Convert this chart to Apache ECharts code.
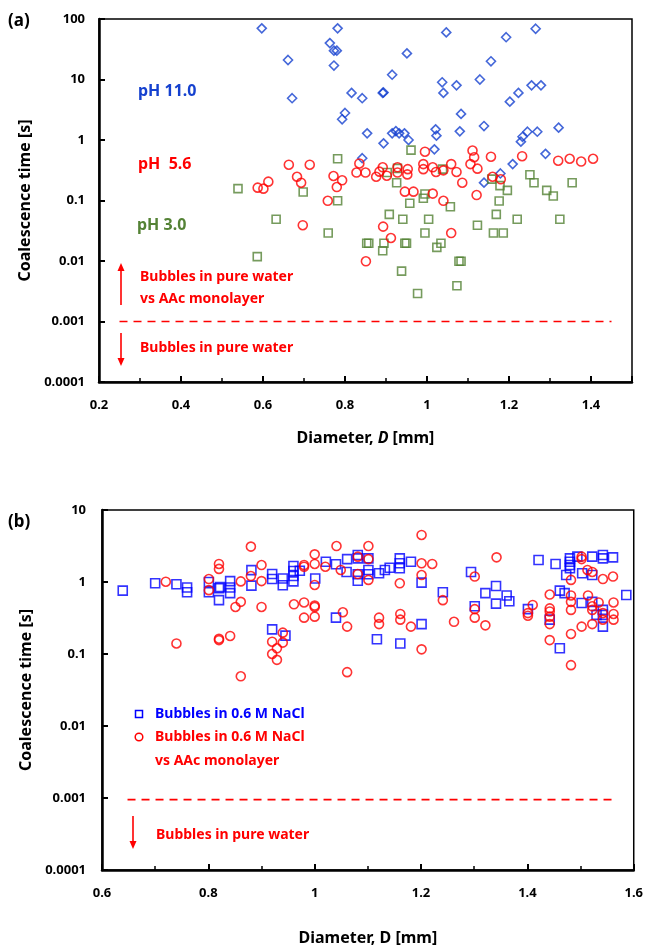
<!DOCTYPE html>
<html><head><meta charset="utf-8">
<script src="https://cdn.jsdelivr.net/npm/echarts@6/dist/echarts.min.js"></script>
<style>html,body{margin:0;padding:0;background:#fff}#c{width:646px;height:948px}</style>
</head><body><div id="c"></div>
<script>
// ---------- Panel (a): diameter [mm] vs coalescence time [s] ----------
const pH11 = [[0.597,70],[0.782,70],[0.763,40],[0.773,30],[0.78,30],[0.661,21],[0.773,17],[0.671,4.9],[0.816,6],[0.842,4.9],[0.8,2.8],[0.793,2.2],[0.854,1.29],[0.842,0.5],[1.047,60],[1.265,69],[1.193,50],[0.951,27],[1.156,20],[0.915,12],[1.037,9],[1.129,10],[1.072,8],[1.255,8],[1.278,8],[0.892,6],[0.894,6.1],[1.04,6],[1.223,6],[1.202,4.3],[1.083,2.7],[1.139,1.7],[1.321,1.6],[0.915,1.29],[0.924,1.4],[0.932,1.29],[0.945,1.29],[0.955,1.0],[0.894,0.88],[1.021,1.5],[1.023,1.18],[1.08,1.39],[1.018,0.7],[1.245,1.37],[1.269,1.37],[1.233,1.13],[1.229,0.94],[1.289,0.59],[1.209,0.4],[1.179,0.28],[1.139,0.197]];
const pH56 = [[0.663,0.39],[0.714,0.39],[0.835,0.41],[0.828,0.29],[0.85,0.29],[0.613,0.205],[0.587,0.163],[0.601,0.157],[0.683,0.247],[0.693,0.197],[0.772,0.254],[0.793,0.216],[0.78,0.167],[0.758,0.099],[0.697,0.039],[0.851,0.0099],[0.995,0.64],[1.111,0.67],[1.115,0.52],[1.156,0.53],[1.232,0.54],[1.32,0.455],[1.348,0.49],[1.376,0.44],[1.405,0.49],[0.876,0.247],[0.884,0.3],[0.892,0.354],[0.902,0.257],[0.928,0.354],[0.928,0.29],[0.953,0.33],[0.952,0.27],[0.991,0.4],[0.991,0.33],[1.014,0.354],[1.022,0.296],[1.04,0.315],[1.059,0.4],[1.072,0.296],[1.106,0.4],[1.123,0.336],[1.086,0.197],[1.16,0.247],[1.18,0.224],[0.946,0.14],[0.967,0.14],[1.014,0.13],[1.04,0.099],[1.121,0.123],[0.893,0.037],[0.912,0.024],[1.059,0.029]];
const pH30 = [[0.782,0.49],[0.539,0.157],[0.698,0.138],[0.782,0.099],[0.632,0.049],[0.759,0.029],[0.586,0.0118],[0.853,0.0196],[0.858,0.0196],[0.961,0.68],[1.038,0.33],[0.928,0.34],[0.903,0.29],[0.926,0.197],[1.158,0.226],[1.178,0.176],[1.196,0.147],[1.251,0.267],[1.261,0.197],[1.292,0.147],[1.308,0.119],[1.354,0.197],[0.995,0.128],[0.991,0.109],[0.958,0.09],[1.057,0.079],[1.176,0.098],[0.908,0.059],[0.941,0.049],[1.004,0.049],[1.169,0.059],[1.22,0.049],[1.324,0.049],[1.123,0.039],[0.995,0.029],[1.162,0.029],[1.186,0.029],[0.895,0.0196],[0.892,0.0148],[0.946,0.0196],[0.95,0.0196],[1.034,0.0196],[1.024,0.0168],[1.078,0.0099],[1.083,0.0099],[0.938,0.0068],[1.073,0.0039],[0.977,0.0029]];
const thresholdA = [[0.25,0.001],[1.45,0.001]];

// ---------- Panel (b) ----------
const naclB = [[0.639,0.76],[0.700,0.96],[0.740,0.93],[0.760,0.84],[0.760,0.72],[0.801,1.0],[0.801,0.72],[0.820,0.82],[0.822,0.85],[0.820,0.56],[0.841,1.03],[0.841,0.84],[0.841,0.70],[0.881,1.46],[0.881,0.89],[0.920,1.29],[0.920,1.1],[0.940,1.12],[0.940,0.9],[0.960,1.67],[0.960,1.42],[0.960,1.21],[0.960,1.02],[0.972,1.43],[1.001,1.12],[1.021,1.91],[1.040,1.76],[1.060,1.38],[1.061,2.08],[1.081,2.37],[1.081,2.13],[1.081,1.28],[1.081,1.04],[1.101,2.13],[1.101,1.47],[1.101,1.28],[1.121,1.32],[1.132,1.47],[1.141,1.58],[1.160,2.13],[1.160,1.82],[1.160,1.55],[1.181,1.91],[1.201,0.98],[1.294,1.38],[1.421,2.02],[1.453,1.78],[1.480,2.13],[1.480,1.91],[1.480,1.72],[1.480,1.55],[1.494,2.25],[1.473,1.25],[1.503,1.32],[1.522,2.25],[1.522,1.25],[1.542,2.37],[1.542,2.13],[1.561,2.2],[0.920,0.22],[0.945,0.18],[1.040,0.32],[1.201,0.26],[1.241,0.72],[1.301,0.46],[1.321,0.7],[1.341,0.88],[1.341,0.5],[1.361,0.65],[1.366,0.54],[1.401,0.42],[1.442,0.3],[1.117,0.16],[1.161,0.14],[1.461,0.76],[1.470,0.7],[1.502,0.51],[1.522,0.53],[1.530,0.35],[1.542,0.41],[1.542,0.35],[1.542,0.24],[1.461,0.12],[1.586,0.66]];
const naclAAcB = [[0.720,1.01],[0.740,0.14],[0.801,1.1],[0.801,0.77],[0.820,1.78],[0.820,1.52],[0.820,0.163],[0.820,0.156],[0.841,0.178],[0.851,0.45],[0.861,0.53],[0.861,1.02],[0.861,0.049],[0.880,1.21],[0.880,3.1],[0.900,1.72],[0.900,1.03],[0.900,0.45],[0.920,0.148],[0.920,0.1],[0.929,0.12],[0.929,0.083],[0.940,0.198],[0.940,0.144],[0.961,0.49],[0.980,0.52],[0.980,0.32],[0.980,1.72],[0.980,1.63],[1.000,0.47],[1.000,0.45],[1.000,0.33],[1.000,0.91],[1.000,1.78],[1.000,2.42],[1.020,1.63],[1.041,3.16],[1.049,1.47],[1.053,0.38],[1.061,0.24],[1.061,0.056],[1.081,1.29],[1.081,2.25],[1.101,1.07],[1.101,3.16],[1.101,2.08],[1.160,0.96],[1.201,4.5],[1.201,1.82],[1.201,1.25],[1.201,0.116],[1.221,1.78],[1.241,0.56],[1.121,0.32],[1.121,0.26],[1.161,0.36],[1.161,0.3],[1.181,0.24],[1.262,0.28],[1.301,1.19],[1.301,0.42],[1.301,0.32],[1.321,0.25],[1.342,2.2],[1.401,0.37],[1.401,0.34],[1.410,0.48],[1.442,0.67],[1.442,0.43],[1.442,0.39],[1.442,0.33],[1.442,0.26],[1.442,0.156],[1.482,1.07],[1.482,0.65],[1.482,0.53],[1.482,0.41],[1.482,0.19],[1.482,0.07],[1.502,2.25],[1.502,2.08],[1.502,0.24],[1.513,1.47],[1.514,0.65],[1.522,1.38],[1.522,0.46],[1.522,0.41],[1.522,0.26],[1.534,0.52],[1.542,1.1],[1.542,0.37],[1.542,0.3],[1.561,1.19],[1.562,0.52],[1.562,0.36],[1.562,0.3]];
const thresholdB = [[0.648,0.00095],[1.568,0.00095]];

const xTicksA = {min:0.2, max:1.5, interval:0.2};
const xTicksB = {min:0.6, max:1.6, interval:0.2};
const yRangeA = {min:0.0001, max:100};
const yRangeB = {min:0.0001, max:10};

const FONT = 'Noto Sans';
const RED = '#FF0000', BLUE_A = '#1541CF', GREEN = '#548235', BLUE_B = '#0000FF';

function logLabel(v){
  const e = Math.round(Math.log10(v));
  return e >= 0 ? String(Math.pow(10,e)) : '0.' + '0'.repeat(-e-1) + '1';
}
function xAxisCfg(grid, r, nameGap, italicD, showMax){
  return {
    type:'value', gridIndex:grid, min:r.min, max:r.max, interval:r.interval,
    axisLine:{show:true, onZero:false, lineStyle:{color:'#000', width:2.5}},
    axisTick:{show:true, inside:true, length:6, lineStyle:{color:'#000', width:2}},
    minorTick:{show:true, splitNumber:2, length:4, lineStyle:{color:'#000', width:1.5}},
    splitLine:{show:false},
    axisLabel:{margin:17, color:'#000', fontSize:13, fontWeight:'bold', fontFamily:FONT, showMaxLabel:showMax,
      formatter:v=>String(+v.toFixed(1))},
    name: italicD ? '{n|Diameter, }{i|D}{n| [mm]}' : '{n|Diameter, D [mm]}',
    nameLocation:'middle', nameGap:nameGap,
    nameTextStyle:{rich:{
      n:{fontSize:16, fontWeight:'bold', fontFamily:FONT, color:'#000'},
      i:{fontSize:16, fontWeight:'bold', fontStyle:'italic', fontFamily:FONT, color:'#000'}}}
  };
}
function yAxisCfg(grid, r, split, margin){
  return {
    type:'log', logBase:10, gridIndex:grid, min:r.min, max:r.max, splitNumber:split,
    axisLine:{show:true, onZero:false, lineStyle:{color:'#000', width:2.5}},
    axisTick:{show:true, inside:true, length:6, lineStyle:{color:'#000', width:2}},
    minorTick:{show:false}, splitLine:{show:false},
    axisLabel:{margin:margin, color:'#000', fontSize:13, fontWeight:'bold', fontFamily:FONT, formatter:logLabel},
    name:'Coalescence time [s]', nameLocation:'middle', nameGap:63,
    nameTextStyle:{fontSize:16, fontWeight:'bold', fontFamily:FONT, color:'#000'}
  };
}
function scat(name, data, xi, symbol, size, color){
  return {name, type:'scatter', xAxisIndex:xi, yAxisIndex:xi, data, symbol, symbolSize:size,
    itemStyle:{color:'rgba(255,255,255,0)', borderColor:color, borderWidth:1.6}, silent:true, z:3};
}
function dash(data, xi){
  return {type:'line', xAxisIndex:xi, yAxisIndex:xi, data, symbol:'none', silent:true, z:2,
    lineStyle:{color:RED, width:1.6, type:[8,6]}};
}
function arrow(x, y1, y2){ // from y1 to tip y2
  const dir = y2 > y1 ? 1 : -1;
  return [
    {type:'line', shape:{x1:x, y1:y1, x2:x, y2:y2 - dir*6}, style:{stroke:RED, lineWidth:1.6}},
    {type:'polygon', shape:{points:[[x-3.5, y2 - dir*8],[x+3.5, y2 - dir*8],[x, y2]]}, style:{fill:RED}}
  ];
}
function txt(x, y, text, color, size, align){
  return {type:'text', x, y, style:{text, fill:color, font:'bold '+size+'px "'+FONT+'"', textAlign:align||'left', textVerticalAlign:'middle'}};
}

const chart = echarts.init(document.getElementById('c'), null, {renderer:'canvas'});
chart.setOption({
  backgroundColor:'#fff', animation:false,
  grid:[
    {left:99, top:19, width:533, height:363, show:true, borderColor:'#000', borderWidth:1.5, backgroundColor:'transparent'},
    {left:102, top:510, width:532, height:360, show:true, borderColor:'#000', borderWidth:1.5, backgroundColor:'transparent'}
  ],
  xAxis:[xAxisCfg(0, xTicksA, 48, true, false), xAxisCfg(1, xTicksB, 60, false, true)],
  yAxis:[yAxisCfg(0, yRangeA, 6, 14), yAxisCfg(1, yRangeB, 5, 16)],
  series:[
    scat('pH 11.0', pH11, 0, 'diamond', 9, BLUE_A),
    scat('pH 3.0', pH30, 0, 'rect', 8, GREEN),
    scat('pH 5.6', pH56, 0, 'circle', 9, RED),
    dash(thresholdA, 0),
    scat('Bubbles in 0.6 M NaCl', naclB, 1, 'rect', 9, BLUE_B),
    scat('Bubbles in 0.6 M NaCl vs AAc monolayer', naclAAcB, 1, 'circle', 9, RED),
    dash(thresholdB, 1)
  ],
  graphic:[
    txt(8, 21, '(a)', '#000', 17),
    txt(138, 91, 'pH 11.0', BLUE_A, 16),
    txt(138, 164, 'pH  5.6', RED, 16),
    txt(137, 225, 'pH 3.0', GREEN, 16),
    txt(140, 277, 'Bubbles in pure water', RED, 14),
    txt(140, 299, 'vs AAc monolayer', RED, 14),
    txt(140, 348, 'Bubbles in pure water', RED, 14),
    ...arrow(121, 305, 263),
    ...arrow(121, 333, 366),
    txt(8, 522, '(b)', '#000', 17),
    {type:'rect', shape:{x:135.5, y:710.5, width:7, height:7}, style:{fill:'none', stroke:BLUE_B, lineWidth:1.5}},
    txt(155, 714, 'Bubbles in 0.6 M NaCl', BLUE_B, 14),
    {type:'circle', shape:{cx:139, cy:737, r:3.8}, style:{fill:'none', stroke:RED, lineWidth:1.5}},
    txt(155, 737, 'Bubbles in 0.6 M NaCl', RED, 14),
    txt(155, 761, 'vs AAc monolayer', RED, 14),
    txt(156, 835, 'Bubbles in pure water', RED, 14),
    ...arrow(133, 816, 849)
  ]
});
</script></body></html>
